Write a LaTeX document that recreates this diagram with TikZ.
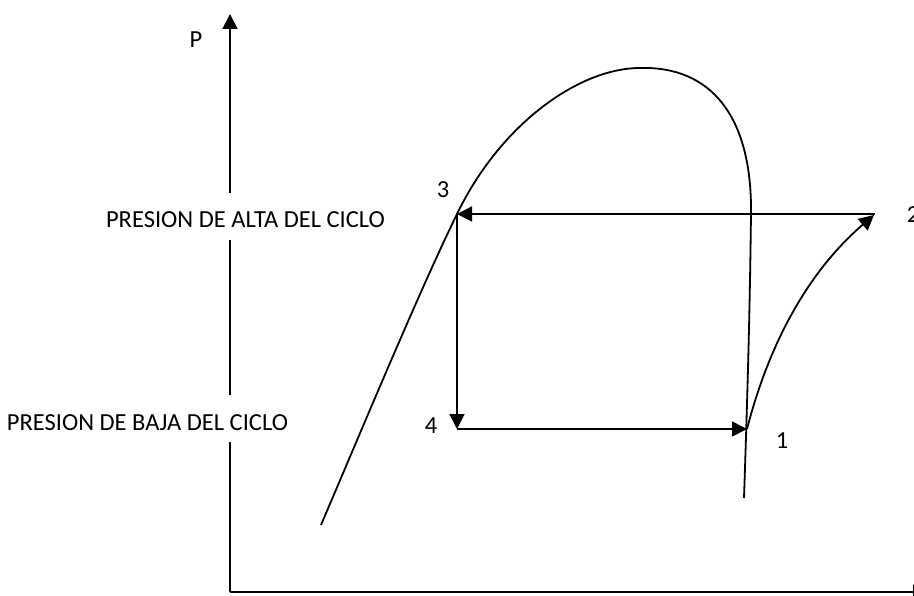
\documentclass[tikz,border=0pt]{standalone}
\usepackage{fontspec}
\setmainfont{Carlito}
\usetikzlibrary{arrows.meta}
\begin{document}
\begin{tikzpicture}[x=1pt,y=-1pt,
  ln/.style={line width=1.8pt},
  arr/.style={ln,-{Triangle[length=15pt,width=15pt]}},
  lbl/.style={inner sep=0pt,anchor=base,font=\fontsize{24.5}{28}\selectfont},
  axlbl/.style={lbl,fill=white,inner xsep=2pt,text height=35pt,text depth=12pt}]
\useasboundingbox (0,0) rectangle (914,596);
% axes
\coordinate (o) at (230,592);
\coordinate (ytop) at (230,14);
\coordinate (xend) at (928,592);
\draw[arr] (o) -- (ytop);
\draw[arr] (o) -- (xend);
% cycle points
\coordinate (p1) at (747,429);
\coordinate (p2) at (875,214);
\coordinate (p3) at (457,214);
\coordinate (p4) at (457,429);
% saturation dome
\draw[ln] (321,525) .. controls (370,410) and (420,290) .. (457,214)
  .. controls (501,123) and (580,68) .. (640,68)
  .. controls (710,66) and (752,115) .. (751,213)
  .. controls (750,300) and (748,380) .. (744,498);
\draw[arr] (p3) -- (p4);
\draw[arr] (p4) -- (p1);
\draw[arr] (p1) .. controls (770,340) and (810,270) .. (874,215);
\draw[arr] (p2) -- (p3);
% labels
\node[lbl] (lP) at (196,48) {P};
\node[axlbl] (lalta) at (245.5,228) {PRESION DE ALTA DEL CICLO};
\node[axlbl] (lbaja) at (147.5,430) {PRESION DE BAJA DEL CICLO};
\node[lbl] (l3) at (443,198) {3};
\node[lbl] (l4) at (431,433) {4};
\node[lbl] (l1) at (782,448) {1};
\node[lbl] (l2) at (913,223) {2};
\end{tikzpicture}
\end{document}
